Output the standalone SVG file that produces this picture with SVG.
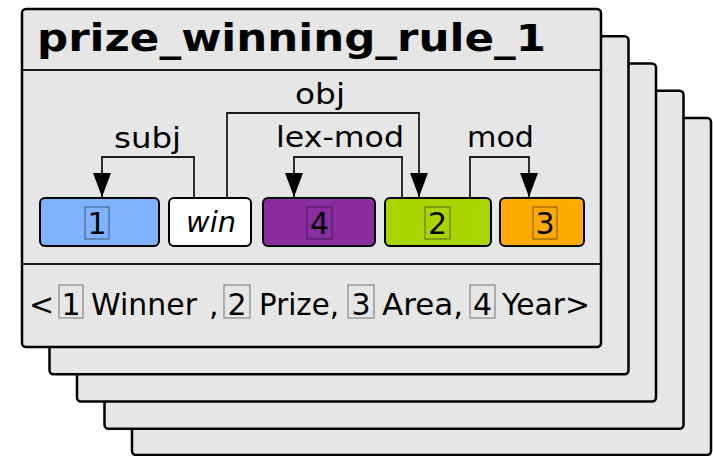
<svg xmlns="http://www.w3.org/2000/svg" width="713" height="456" viewBox="0 0 713 456">
<style>
.card{fill:#e6e6e6;stroke:#000;stroke-width:2.5}
.sep{stroke:#1a1a1a;stroke-width:2;fill:none}
.node{stroke:#000;stroke-width:2}
.t{font-family:"DejaVu Sans",Verdana,sans-serif;fill:#000}
.lbl{font-size:29px}
.dig{font-size:30px;text-anchor:middle}
.box{fill:none;stroke:#000;stroke-opacity:0.5;stroke-width:1}
.edge{fill:none;stroke:#1a1a1a;stroke-width:1.8}
</style>
<defs>
<marker id="arr" markerUnits="userSpaceOnUse" viewBox="0 0 24 18" refX="24" refY="9" markerWidth="24" markerHeight="18" orient="auto">
<path d="M0,0 L24,9 L0,18 z" fill="#000"/>
</marker>
</defs>
<g id="stack">
<rect class="card" x="132" y="118" width="579" height="337" rx="4"/>
<rect class="card" x="104.5" y="90.75" width="579" height="338" rx="4"/>
<rect class="card" x="77" y="63.5" width="579" height="338" rx="4"/>
<rect class="card" x="49.5" y="36.25" width="579" height="338" rx="4"/>
</g>
<g id="card">
<rect class="card" x="22" y="9" width="579" height="338" rx="4"/>
<line class="sep" x1="22" y1="70" x2="601" y2="70"/>
<line class="sep" x1="22" y1="264" x2="601" y2="264"/>
<text class="t" x="37" y="51" font-size="37" font-weight="bold" textLength="509" lengthAdjust="spacingAndGlyphs">prize_winning_rule_1</text>
</g>
<g id="connectors">
<path class="edge" d="M194,198 V157 H102 V197" marker-end="url(#arr)"/>
<path class="edge" d="M227,198 V113 H419 V197" marker-end="url(#arr)"/>
<path class="edge" d="M402,198 V157 H294 V197" marker-end="url(#arr)"/>
<path class="edge" d="M470,198 V157 H529 V197" marker-end="url(#arr)"/>
<text class="t lbl" x="295" y="104" textLength="50" lengthAdjust="spacingAndGlyphs">obj</text>
<text class="t lbl" x="114" y="148" textLength="67" lengthAdjust="spacingAndGlyphs">subj</text>
<text class="t lbl" x="276" y="147" textLength="128" lengthAdjust="spacingAndGlyphs">lex-mod</text>
<text class="t lbl" x="467" y="147" textLength="67" lengthAdjust="spacingAndGlyphs">mod</text>
</g>
<g id="node1">
<rect class="node" x="40" y="198" width="119" height="48" rx="5" fill="#80b3ff"/>
<rect class="box" x="85" y="207" width="24" height="32"/>
<text class="t dig" x="97" y="234">1</text>
</g>
<g id="win">
<rect class="node" x="169" y="198" width="82" height="48" rx="5" fill="#ffffff"/>
<text class="t" x="186" y="232" font-size="29" font-style="italic" textLength="50" lengthAdjust="spacingAndGlyphs">win</text>
</g>
<g id="node4">
<rect class="node" x="263" y="198" width="112" height="48" rx="5" fill="#892ca0"/>
<rect class="box" x="307" y="207" width="25" height="32"/>
<text class="t dig" x="319.5" y="234">4</text>
</g>
<g id="node2">
<rect class="node" x="385" y="198" width="106" height="48" rx="5" fill="#aad400"/>
<rect class="box" x="425" y="207" width="25" height="32"/>
<text class="t dig" x="437.5" y="234">2</text>
</g>
<g id="node3">
<rect class="node" x="500" y="198" width="84" height="48" rx="5" fill="#ffaa00"/>
<rect class="box" x="533" y="207" width="24" height="32"/>
<text class="t dig" x="545" y="234">3</text>
</g>
<g id="slots">
<text class="t" x="29" y="315" font-size="30">&lt;</text>
<rect class="box" x="59" y="285" width="24" height="33"/>
<text class="t dig" x="71" y="315">1</text>
<text class="t" x="91" y="315" font-size="30" textLength="106" lengthAdjust="spacingAndGlyphs">Winner</text>
<text class="t" x="209" y="315" font-size="30">,</text>
<rect class="box" x="224" y="285" width="26" height="33"/>
<text class="t dig" x="237" y="315">2</text>
<text class="t" x="259" y="315" font-size="30" textLength="80" lengthAdjust="spacingAndGlyphs">Prize,</text>
<rect class="box" x="348" y="285" width="26" height="33"/>
<text class="t dig" x="361" y="315">3</text>
<text class="t" x="382" y="315" font-size="30" textLength="81" lengthAdjust="spacingAndGlyphs">Area,</text>
<rect class="box" x="470" y="285" width="25" height="33"/>
<text class="t dig" x="482.5" y="315">4</text>
<text class="t" x="502" y="315" font-size="30" textLength="88" lengthAdjust="spacingAndGlyphs">Year&gt;</text>
</g>
</svg>
